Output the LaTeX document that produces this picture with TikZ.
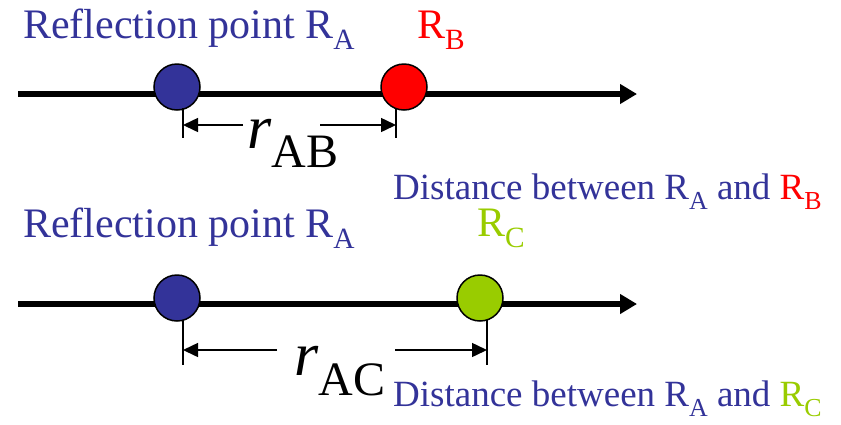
\documentclass[tikz,border=0pt]{standalone}
\usepackage{fontspec}
\setmainfont{Liberation Serif}
\usetikzlibrary{arrows.meta}
\definecolor{ptblue}{HTML}{333399}
\definecolor{ptred}{HTML}{FF0000}
\definecolor{ptgreen}{HTML}{99CC00}
\newcommand\lowsub[1]{\raisebox{-0.28em}{\scalebox{0.7}{#1}}}
\tikzset{
  axis/.style={line width=6pt, -{Triangle[length=17pt 0 0,width=19pt 0 0]}},
  pt/.style={circle, draw=black, line width=1.5pt, minimum size=46pt, inner sep=0pt},
  tick/.style={line width=1.5pt},
  dim/.style={line width=1.5pt, -{Triangle[length=15pt 0 0,width=14pt 0 0]}},
  lbl/.style={anchor=base west, inner sep=0pt, font=\fontsize{42}{42}\selectfont},
  dlbl/.style={anchor=base west, inner sep=0pt, font=\fontsize{37}{37}\selectfont, text=ptblue},
  rlbl/.style={anchor=base west, inner sep=0pt},
}
\begin{document}
\begin{tikzpicture}[x=1pt,y=-1pt]
\useasboundingbox (0,0) rectangle (841,424);
% ---- top row ----
\coordinate (l1s) at (18,94);
\coordinate (l1e) at (637,94);
\draw[axis] (l1s) -- (l1e);
\node[pt, fill=ptblue] (A1) at (177,87) {};
\node[pt, fill=ptred] (B1) at (404,87) {};
\coordinate (tA1a) at (183,108); \coordinate (tA1b) at (183,138);
\coordinate (tB1a) at (396,108); \coordinate (tB1b) at (396,138);
\draw[tick] (tA1a) -- (tA1b);
\draw[tick] (tB1a) -- (tB1b);
\coordinate (dA1) at (183,125); \coordinate (dB1) at (396,125);
\coordinate (gL1) at (243,125); \coordinate (gR1) at (320,125);
\draw[dim] (gL1) -- (dA1);
\draw[dim] (gR1) -- (dB1);
\node[rlbl] (rAB) at (247,148) {\fontsize{62}{62}\selectfont\textit{r}\raisebox{-19pt}{\fontsize{48}{48}\selectfont AB}};
\node[lbl, text=ptblue] (refl1) at (23,38) {Reflection point R\lowsub{A}};
\node[lbl, text=ptred] (rb) at (417,38) {R\lowsub{B}};
\node[dlbl] (dist1) at (393,199) {Distance between R\lowsub{A} and \textcolor{ptred}{R\lowsub{B}}};
% ---- bottom row ----
\coordinate (l2s) at (18,304);
\coordinate (l2e) at (637,304);
\draw[axis] (l2s) -- (l2e);
\node[pt, fill=ptblue] (A2) at (177,298) {};
\node[pt, fill=ptgreen] (C2) at (480,298) {};
\coordinate (tA2a) at (183,320); \coordinate (tA2b) at (183,365);
\coordinate (tC2a) at (487,320); \coordinate (tC2b) at (487,365);
\draw[tick] (tA2a) -- (tA2b);
\draw[tick] (tC2a) -- (tC2b);
\coordinate (dA2) at (183,350); \coordinate (dC2) at (487,350);
\coordinate (gL2) at (277,350); \coordinate (gR2) at (395,350);
\draw[dim] (gL2) -- (dA2);
\draw[dim] (gR2) -- (dC2);
\node[rlbl] (rAC) at (294,375) {\fontsize{62}{62}\selectfont\textit{r}\raisebox{-20pt}{\fontsize{48}{48}\selectfont AC}};
\node[lbl, text=ptblue] (refl2) at (23,237) {Reflection point R\lowsub{A}};
\node[lbl, text=ptgreen] (rc) at (477,236) {R\lowsub{C}};
\node[dlbl] (dist2) at (393,406) {Distance between R\lowsub{A} and \textcolor{ptgreen}{R\lowsub{C}}};
\end{tikzpicture}
\end{document}
